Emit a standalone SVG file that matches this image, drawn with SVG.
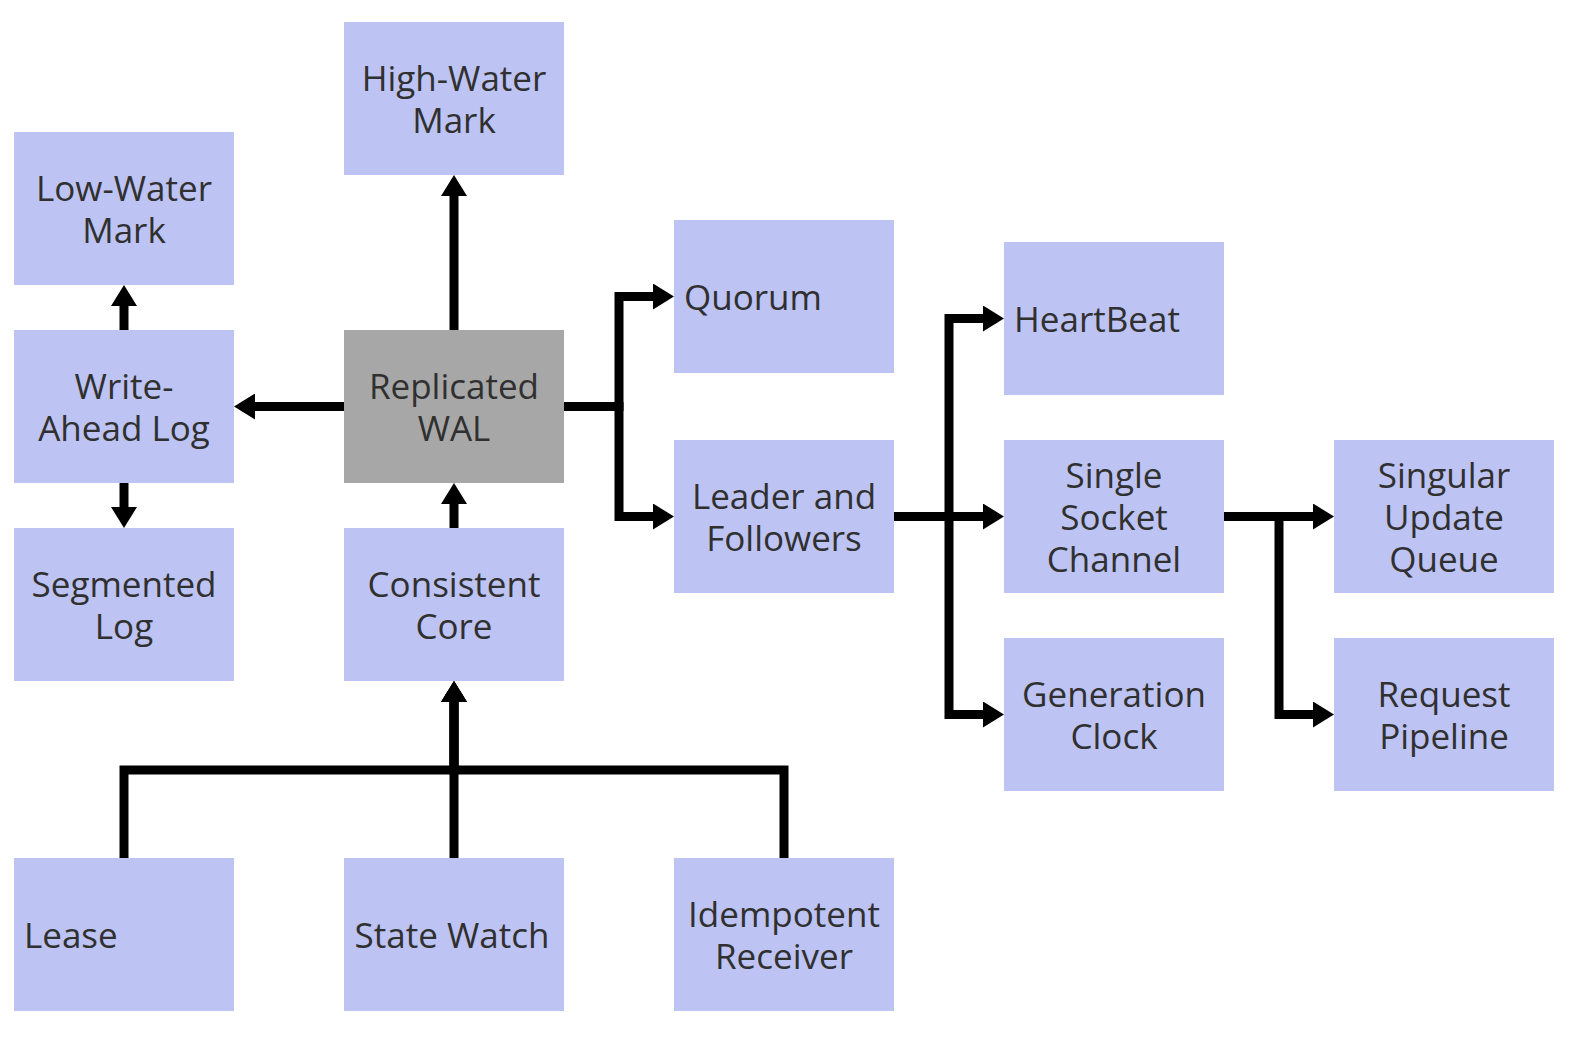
<svg xmlns="http://www.w3.org/2000/svg" width="1580" height="1042" viewBox="0 0 1580 1042">
<defs>
<style>
.box{fill:#bdc3f2;}
.grey{fill:#a8a7a8;}
text{font-family:"Open Sans","Noto Sans","DejaVu Sans",sans-serif;font-size:35px;fill:#303030;}
.c{text-anchor:middle;}
.l{text-anchor:start;}
.edge{fill:none;stroke:#000000;stroke-width:9;stroke-linejoin:miter;stroke-linecap:butt;}
</style>
<marker id="ah" markerUnits="userSpaceOnUse" markerWidth="21" markerHeight="26" refX="0" refY="13" orient="auto" viewBox="0 0 21 26">
<path d="M0,0 L21,13 L0,26 z" fill="#000000"/>
</marker>
</defs>
<rect width="1580" height="1042" fill="#ffffff"/>
<g id="connectors">
<path class="edge" d="M454,330 V196" marker-end="url(#ah)"/>
<path class="edge" d="M344,406.5 H255" marker-end="url(#ah)"/>
<path class="edge" d="M124,330 V306" marker-end="url(#ah)"/>
<path class="edge" d="M124,483 V507" marker-end="url(#ah)"/>
<path class="edge" d="M454,528 V504" marker-end="url(#ah)"/>
<path class="edge" d="M564,406.5 H619 V296.5 H653" marker-end="url(#ah)"/>
<path class="edge" d="M564,406.5 H619 V516.5 H653" marker-end="url(#ah)"/>
<path class="edge" d="M894,516.5 H949 V318.5 H983" marker-end="url(#ah)"/>
<path class="edge" d="M894,516.5 H983" marker-end="url(#ah)"/>
<path class="edge" d="M894,516.5 H949 V714.5 H983" marker-end="url(#ah)"/>
<path class="edge" d="M1224,516.5 H1313" marker-end="url(#ah)"/>
<path class="edge" d="M1224,516.5 H1279 V714.5 H1313" marker-end="url(#ah)"/>
<path class="edge" d="M124,858 V770 H454 V702" marker-end="url(#ah)"/>
<path class="edge" d="M454,858 V702" marker-end="url(#ah)"/>
<path class="edge" d="M784,858 V770 H454 V702" marker-end="url(#ah)"/>
</g>
<g id="high-water-mark"><rect class="box" x="344" y="22" width="220" height="153"/><text class="c" x="454" y="91">High-Water</text><text class="c" x="454" y="133">Mark</text></g>
<g id="low-water-mark"><rect class="box" x="14" y="132" width="220" height="153"/><text class="c" x="124" y="201">Low-Water</text><text class="c" x="124" y="243">Mark</text></g>
<g id="write-ahead-log"><rect class="box" x="14" y="330" width="220" height="153"/><text class="c" x="124" y="399">Write-</text><text class="c" x="124" y="441">Ahead Log</text></g>
<g id="replicated-wal"><rect class="grey" x="344" y="330" width="220" height="153"/><text class="c" x="454" y="399">Replicated</text><text class="c" x="454" y="441">WAL</text></g>
<g id="segmented-log"><rect class="box" x="14" y="528" width="220" height="153"/><text class="c" x="124" y="597">Segmented</text><text class="c" x="124" y="639">Log</text></g>
<g id="consistent-core"><rect class="box" x="344" y="528" width="220" height="153"/><text class="c" x="454" y="597">Consistent</text><text class="c" x="454" y="639">Core</text></g>
<g id="quorum"><rect class="box" x="674" y="220" width="220" height="153"/><text class="l" x="684" y="310">Quorum</text></g>
<g id="leader-and-followers"><rect class="box" x="674" y="440" width="220" height="153"/><text class="c" x="784" y="509">Leader and</text><text class="c" x="784" y="551">Followers</text></g>
<g id="heartbeat"><rect class="box" x="1004" y="242" width="220" height="153"/><text class="l" x="1014" y="332">HeartBeat</text></g>
<g id="single-socket-channel"><rect class="box" x="1004" y="440" width="220" height="153"/><text class="c" x="1114" y="488">Single</text><text class="c" x="1114" y="530">Socket</text><text class="c" x="1114" y="572">Channel</text></g>
<g id="generation-clock"><rect class="box" x="1004" y="638" width="220" height="153"/><text class="c" x="1114" y="707">Generation</text><text class="c" x="1114" y="749">Clock</text></g>
<g id="singular-update-queue"><rect class="box" x="1334" y="440" width="220" height="153"/><text class="c" x="1444" y="488">Singular</text><text class="c" x="1444" y="530">Update</text><text class="c" x="1444" y="572">Queue</text></g>
<g id="request-pipeline"><rect class="box" x="1334" y="638" width="220" height="153"/><text class="c" x="1444" y="707">Request</text><text class="c" x="1444" y="749">Pipeline</text></g>
<g id="lease"><rect class="box" x="14" y="858" width="220" height="153"/><text class="l" x="24" y="948">Lease</text></g>
<g id="state-watch"><rect class="box" x="344" y="858" width="220" height="153"/><text class="c" x="452" y="948">State Watch</text></g>
<g id="idempotent-receiver"><rect class="box" x="674" y="858" width="220" height="153"/><text class="c" x="784" y="927">Idempotent</text><text class="c" x="784" y="969">Receiver</text></g>
</svg>
